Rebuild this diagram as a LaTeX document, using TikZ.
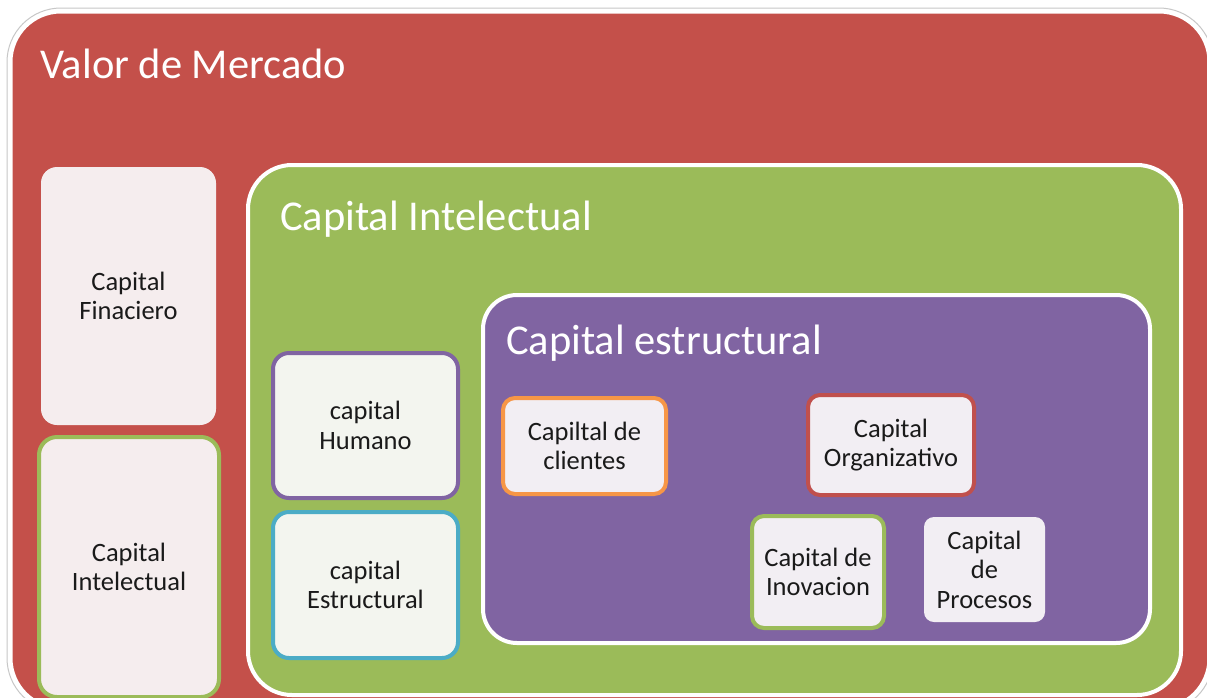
\documentclass[tikz,border=0pt]{standalone}
\usepackage{fontspec}
\setmainfont{Carlito}
\definecolor{vmred}{HTML}{C4504A}
\definecolor{vmgreen}{HTML}{9BBB59}
\definecolor{vmpurple}{HTML}{8064A2}
\definecolor{vmblue}{HTML}{4BACC6}
\definecolor{vmorange}{HTML}{F79646}
\definecolor{boxred}{HTML}{C0504D}
\definecolor{pinkfill}{HTML}{F5EDEE}
\definecolor{greyfill}{HTML}{F3F5EF}
\definecolor{lilacfill}{HTML}{F2EEF3}
\definecolor{txt}{HTML}{1A1A1A}
\tikzset{
  container/.style={rectangle, draw=white, line width=4pt, inner sep=0pt},
  title/.style={anchor=base west, text=white, inner sep=0pt, font=\fontsize{42.5}{50}\selectfont},
  card/.style={rectangle, inner sep=0pt, line width=4pt, align=center, text=txt,
    font=\fontsize{26.5}{29.5}\selectfont}
}
\begin{document}
\begin{tikzpicture}[x=1pt,y=-1pt]
\useasboundingbox (0,0) rectangle (1207,697);
\fill[white] (0,0) rectangle (1207,697);
% outer frame
\draw[black!22, line width=1pt, rounded corners=54pt] (7,8) rectangle (1213,712);
\node[container, line width=3pt, fill=vmred, rounded corners=50pt,
  minimum width=1198pt, minimum height=696pt] (mercado) at (610,360) {};
\node[title] (tmercado) at (40,78) {Valor de Mercado};
% capital intelectual container
\node[container, fill=vmgreen, rounded corners=44pt,
  minimum width=933pt, minimum height=530pt] (intel) at (714.5,430) {};
\node[title] (tintel) at (280,230) {Capital Intelectual};
% capital estructural container
\node[container, fill=vmpurple, rounded corners=34pt,
  minimum width=667pt, minimum height=348pt] (estr) at (816.5,469) {};
\node[title] (testr) at (506,354) {Capital estructural};
% left column
\node[card, fill=pinkfill, rounded corners=16pt, minimum width=175pt, minimum height=258pt]
  (finan) at (128.5,296) {Capital\\Finaciero};
\node[card, fill=pinkfill, draw=vmgreen, rounded corners=18pt, minimum width=180pt, minimum height=260pt]
  (cileft) at (129,567) {Capital\\Intelectual};
% middle column
\node[card, fill=greyfill, draw=vmpurple, rounded corners=16pt, minimum width=185pt, minimum height=145pt]
  (humano) at (365.5,425.5) {capital\\Humano};
\node[card, fill=greyfill, draw=vmblue, rounded corners=16pt, minimum width=185pt, minimum height=146pt]
  (cestr) at (365.5,585) {capital\\Estructural};
% inner cards
\node[card, fill=lilacfill, draw=vmorange, rounded corners=12pt, minimum width=163pt, minimum height=96pt]
  (clientes) at (584.5,446) {Capiltal de\\clientes};
\node[card, fill=lilacfill, draw=boxred, rounded corners=12pt, minimum width=166pt, minimum height=100pt]
  (organ) at (891,445) {Capital\\Organizativo};
\node[card, fill=lilacfill, draw=vmgreen, rounded corners=12pt, minimum width=132pt, minimum height=112pt]
  (inov) at (818,572) {Capital de\\Inovacion};
\node[card, fill=lilacfill, rounded corners=10pt, minimum width=121pt, minimum height=105pt]
  (proc) at (984.5,569.5) {Capital\\de\\Procesos};
\end{tikzpicture}
\end{document}
